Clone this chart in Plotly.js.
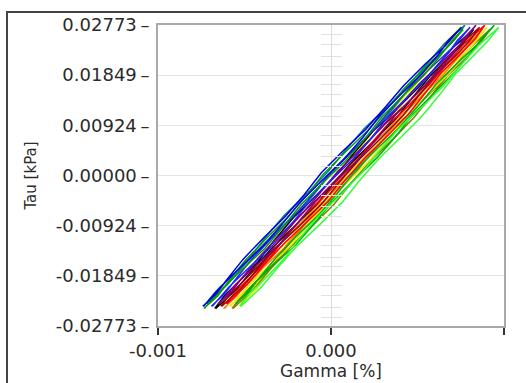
<!DOCTYPE html>
<html>
<head>
<meta charset="utf-8">
<script src="https://cdn.plot.ly/plotly-3.0.1.min.js"></script>
<style>
html,body{margin:0;padding:0;background:#fff;}
#chart{width:526px;height:383px;}
</style>
</head>
<body>
<div id="chart"></div>
<script>
// Shear stress (kPa) along each loop: loading branch up, unloading branch down
const tauA = [-0.0241,-0.0206,-0.0170,-0.0130,-0.0090,-0.0050,-0.0010,0.0030,0.0070,0.0110,0.0150,0.0187,0.0224,0.0249,0.0273,0.0239,0.0205,0.0165,0.0125,0.0085,0.0045,0.0005,-0.0035,-0.0075,-0.0115,-0.0155,-0.0195,-0.0218,-0.0241];
const tauB = [-0.0236,-0.0201,-0.0166,-0.0127,-0.0087,-0.0048,-0.0008,0.0032,0.0072,0.0112,0.0152,0.0190,0.0227,0.0252,0.0277,0.0243,0.0208,0.0168,0.0127,0.0087,0.0047,0.0007,-0.0033,-0.0073,-0.0112,-0.0152,-0.0191,-0.0214,-0.0236];
const tauC = [-0.0245,-0.0210,-0.0174,-0.0134,-0.0093,-0.0053,-0.0013,0.0027,0.0067,0.0107,0.0147,0.0184,0.0221,0.0245,0.0269,0.0236,0.0202,0.0162,0.0122,0.0082,0.0042,0.0002,-0.0038,-0.0078,-0.0118,-0.0158,-0.0198,-0.0222,-0.0245];

// Shear strain (%) read for each loop
const gamma01 = [-521e-6,-403e-6,-309e-6,-197e-6,-64e-6,63e-6,163e-6,274e-6,402e-6,528e-6,631e-6,719e-6,833e-6,911e-6,970e-6,851e-6,755e-6,649e-6,522e-6,388e-6,280e-6,178e-6,57e-6,-73e-6,-179e-6,-275e-6,-396e-6,-472e-6,-527e-6];
const gamma02 = [-546e-6,-451e-6,-336e-6,-202e-6,-93e-6,9e-6,135e-6,264e-6,374e-6,472e-6,596e-6,714e-6,812e-6,869e-6,944e-6,851e-6,733e-6,608e-6,501e-6,390e-6,259e-6,135e-6,36e-6,-73e-6,-200e-6,-320e-6,-420e-6,-474e-6,-551e-6];
const gamma03 = [-566e-6,-449e-6,-355e-6,-242e-6,-109e-6,18e-6,119e-6,230e-6,358e-6,480e-6,580e-6,675e-6,795e-6,866e-6,918e-6,806e-6,717e-6,608e-6,478e-6,344e-6,235e-6,133e-6,12e-6,-118e-6,-224e-6,-320e-6,-441e-6,-517e-6,-572e-6];
const gamma04 = [-581e-6,-486e-6,-370e-6,-235e-6,-126e-6,-24e-6,101e-6,230e-6,341e-6,439e-6,563e-6,681e-6,779e-6,832e-6,903e-6,816e-6,704e-6,572e-6,458e-6,354e-6,230e-6,102e-6,-1e-6,-110e-6,-237e-6,-356e-6,-455e-6,-509e-6,-587e-6];
const gamma05 = [-601e-6,-484e-6,-390e-6,-277e-6,-144e-6,-17e-6,84e-6,195e-6,323e-6,445e-6,545e-6,640e-6,760e-6,834e-6,889e-6,771e-6,676e-6,570e-6,443e-6,309e-6,200e-6,98e-6,-23e-6,-153e-6,-259e-6,-355e-6,-476e-6,-552e-6,-607e-6];
const gamma06 = [-616e-6,-521e-6,-406e-6,-272e-6,-163e-6,-61e-6,65e-6,194e-6,304e-6,402e-6,526e-6,645e-6,743e-6,800e-6,874e-6,781e-6,663e-6,538e-6,431e-6,320e-6,189e-6,65e-6,-34e-6,-143e-6,-270e-6,-390e-6,-490e-6,-544e-6,-621e-6];
const gamma07 = [-631e-6,-513e-6,-419e-6,-307e-6,-174e-6,-47e-6,54e-6,165e-6,293e-6,415e-6,515e-6,610e-6,730e-6,804e-6,859e-6,741e-6,646e-6,540e-6,413e-6,279e-6,170e-6,68e-6,-53e-6,-183e-6,-289e-6,-385e-6,-506e-6,-582e-6,-637e-6];
const gamma08 = [-646e-6,-551e-6,-435e-6,-300e-6,-191e-6,-89e-6,37e-6,166e-6,276e-6,374e-6,498e-6,616e-6,714e-6,767e-6,838e-6,751e-6,639e-6,507e-6,393e-6,289e-6,165e-6,37e-6,-66e-6,-175e-6,-302e-6,-421e-6,-520e-6,-574e-6,-652e-6];
const gamma09 = [-666e-6,-548e-6,-454e-6,-342e-6,-209e-6,-82e-6,19e-6,130e-6,258e-6,380e-6,480e-6,575e-6,695e-6,769e-6,824e-6,706e-6,611e-6,505e-6,378e-6,244e-6,135e-6,33e-6,-88e-6,-218e-6,-324e-6,-420e-6,-541e-6,-617e-6,-672e-6];
const gamma10 = [-686e-6,-591e-6,-475e-6,-340e-6,-231e-6,-129e-6,-3e-6,126e-6,236e-6,334e-6,458e-6,576e-6,674e-6,730e-6,804e-6,714e-6,599e-6,467e-6,353e-6,249e-6,125e-6,-3e-6,-106e-6,-215e-6,-342e-6,-461e-6,-560e-6,-614e-6,-692e-6];
const gamma11 = [-716e-6,-598e-6,-504e-6,-392e-6,-259e-6,-132e-6,-31e-6,80e-6,208e-6,330e-6,430e-6,525e-6,645e-6,719e-6,774e-6,656e-6,561e-6,455e-6,328e-6,194e-6,85e-6,-18e-6,-138e-6,-268e-6,-374e-6,-470e-6,-591e-6,-667e-6,-722e-6];
const gamma12 = [-732e-6,-634e-6,-516e-6,-382e-6,-273e-6,-171e-6,-45e-6,84e-6,194e-6,292e-6,416e-6,535e-6,633e-6,690e-6,764e-6,671e-6,553e-6,428e-6,321e-6,210e-6,79e-6,-46e-6,-144e-6,-253e-6,-380e-6,-500e-6,-599e-6,-655e-6,-735e-6];
const gamma13 = [-525e-6,-423e-6,-345e-6,-251e-6,-136e-6,-26e-6,58e-6,152e-6,263e-6,368e-6,451e-6,531e-6,637e-6,702e-6,748e-6,645e-6,565e-6,476e-6,367e-6,250e-6,159e-6,73e-6,-31e-6,-144e-6,-233e-6,-313e-6,-418e-6,-484e-6,-530e-6];
const gamma14 = [-736e-6,-641e-6,-526e-6,-392e-6,-283e-6,-181e-6,-55e-6,74e-6,184e-6,282e-6,406e-6,525e-6,623e-6,680e-6,754e-6,661e-6,543e-6,418e-6,311e-6,200e-6,69e-6,-56e-6,-154e-6,-263e-6,-390e-6,-510e-6,-609e-6,-663e-6,-741e-6];

const loopGamma  = [gamma13, gamma03, gamma04, gamma06, gamma09, gamma05, gamma11, gamma07, gamma08, gamma10, gamma02, gamma01, gamma12, gamma14];
const loopTau    = [tauA,    tauC,    tauA,    tauC,    tauC,    tauB,    tauB,    tauA,    tauB,    tauA,    tauB,    tauA,    tauC,    tauA];
const loopColors = ['#f0f000','#808000','#e8e800','#ff8000','#000000','#ff0000','#008080','#a00000','#800080','#2424ff','#00b000','#33ff33','#00a000','#0000e6'];

const xTickVals = [-0.001, 0, 0.001];
const xTickText = ['-0.001', '0.000', '0.001'];
const yTickVals = [0.02773, 0.01849, 0.00924, 0, -0.00924, -0.01849, -0.02773];
const yTickText = ['0.02773\u2009\u2013', '0.01849\u2009\u2013', '0.00924\u2009\u2013', '0.00000\u2009\u2013', '-0.00924\u2009\u2013', '-0.01849\u2009\u2013', '-0.02773\u2009\u2013'];
const minorTicks = [0.02592, 0.02411, 0.02193, 0.02012, 0.01668, 0.01487, 0.01269, 0.01088, 0.00743, 0.00562, 0.00344, 0.00163,
                    -0.00181, -0.00362, -0.00580, -0.00761, -0.01105, -0.01286, -0.01504, -0.01685, -0.02030, -0.02211, -0.02429, -0.02610];

const traces = loopGamma.map((g, i) => ({
  x: g, y: loopTau[i], type: 'scatter', mode: 'lines',
  line: {color: loopColors[i], width: 1.5}, hoverinfo: 'skip', showlegend: false
}));
// empty helper traces so the centre minor-tick axes are drawn
traces.push({x: [], y: [], yaxis: 'y2', type: 'scatter', mode: 'lines', showlegend: false, hoverinfo: 'skip'});
traces.push({x: [], y: [], yaxis: 'y3', type: 'scatter', mode: 'lines', showlegend: false, hoverinfo: 'skip'});

const tickFont = {family: 'DejaVu Sans', size: 18, color: '#2b2b2b'};
const yRange = [-0.02773, 0.02773];

const layout = {
  width: 526, height: 383,
  margin: {l: 158, r: 22, t: 25, b: 57},
  paper_bgcolor: '#ffffff', plot_bgcolor: '#ffffff',
  showlegend: false,
  xaxis: {
    range: [-0.001, 0.001], tickvals: xTickVals, ticktext: xTickText,
    ticks: 'outside', ticklen: 7, tickwidth: 2, tickcolor: '#333333',
    showgrid: true, gridcolor: '#dcdcdc', gridwidth: 1, zeroline: false,
    showline: true, linecolor: '#a9a9a9', linewidth: 2, mirror: true,
    tickfont: tickFont,
    title: {text: 'Gamma [%]', font: {family: 'DejaVu Sans', size: 17, color: '#2b2b2b'}, standoff: 4}
  },
  yaxis: {
    range: yRange, tickvals: yTickVals, ticktext: yTickText,
    ticks: '', showgrid: true, gridcolor: '#e4e4e4', gridwidth: 1, zeroline: false,
    showline: true, linecolor: '#a9a9a9', linewidth: 2, mirror: true,
    tickfont: tickFont, ticklabelstandoff: 3,
    title: {text: 'Tau [kPa]', font: {family: 'DejaVu Sans', size: 15, color: '#2b2b2b'}, standoff: 16}
  },
  yaxis2: {
    overlaying: 'y', anchor: 'free', position: 0.5, range: yRange,
    tickvals: minorTicks, ticks: 'outside', ticklen: 10, tickwidth: 1, tickcolor: '#e2e2e2',
    showticklabels: false, showgrid: false, zeroline: false, showline: false
  },
  yaxis3: {
    overlaying: 'y', anchor: 'free', position: 0.5, side: 'right', range: yRange,
    tickvals: minorTicks, ticks: 'outside', ticklen: 10, tickwidth: 1, tickcolor: '#e2e2e2',
    showticklabels: false, showgrid: false, zeroline: false, showline: false
  },
  shapes: [{
    type: 'path', xref: 'paper', yref: 'paper',
    path: 'M -0.4364,-0.25 L -0.4364,1.0432 L 1.1,1.0432',
    line: {color: '#444444', width: 2}
  }]
};

Plotly.newPlot('chart', traces, layout, {displayModeBar: false, staticPlot: true});
</script>
</body>
</html>
